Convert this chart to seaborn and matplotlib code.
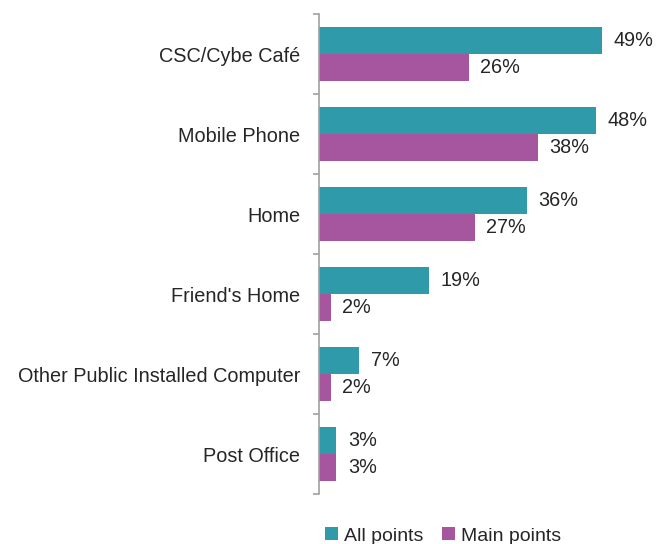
import matplotlib
matplotlib.use("Agg")
import matplotlib.pyplot as plt
import seaborn as sns
import pandas as pd

categories = ["CSC/Cybe Café", "Mobile Phone", "Home", "Friend's Home",
              "Other Public Installed Computer", "Post Office"]
all_points = [49, 48, 36, 19, 7, 3]
main_points = [26, 38, 27, 2, 2, 3]
series = ["All points", "Main points"]
colors = ["#2F9AAA", "#A5569F"]

df = pd.DataFrame({
    "cat": categories * 2,
    "val": all_points + main_points,
    "series": [series[0]] * len(categories) + [series[1]] * len(categories),
})

sns.set_style("white")
plt.rcParams["font.family"] = ["Liberation Sans", "DejaVu Sans"]

fig = plt.figure(figsize=(6.7, 5.44), dpi=100)
ax = fig.add_axes([319 / 670, 1 - 494 / 544, 346 / 670, 480 / 544])

sns.barplot(data=df, y="cat", x="val", hue="series", palette=colors,
            orient="h", width=0.667, saturation=1, ax=ax, legend=True,
            linewidth=0)

ax.set_xlim(0, 60)
ax.set_ylim(5.5, -0.5)
ax.set_xlabel("")
ax.set_ylabel("")
ax.set_xticks([])
for s in ["top", "right", "bottom"]:
    ax.spines[s].set_visible(False)
ax.spines["left"].set_color("#A0A0A0")
ax.spines["left"].set_linewidth(1.2)

ax.set_yticks([i for i in range(len(categories))])
ax.set_yticklabels(categories, fontsize=14.3, color="#262626")
ax.tick_params(axis="y", which="major", left=False, length=0, pad=13.5)
# boundary tick marks
ax.set_yticks([i - 0.5 for i in range(len(categories) + 1)], minor=True)
ax.tick_params(axis="y", which="minor", left=True, length=4.5, color="#A0A0A0", width=1.2)

for cont in ax.containers:
    for bar in cont:
        w = bar.get_width()
        ax.text(w + 2.0, bar.get_y() + bar.get_height() / 2, f"{w:.0f}%",
                va="center", ha="left", fontsize=14.3, color="#262626")

h, l = ax.get_legend_handles_labels()
ax.legend_.remove()
fig.legend(h, l, loc="center", bbox_to_anchor=(443 / 670, 1 - 536 / 544),
           ncol=2, frameon=False, fontsize=14, handlelength=0.65, handleheight=0.65,
           handletextpad=0.3, columnspacing=1.0, labelcolor="#262626")

fig.savefig("out.png", dpi=100)
